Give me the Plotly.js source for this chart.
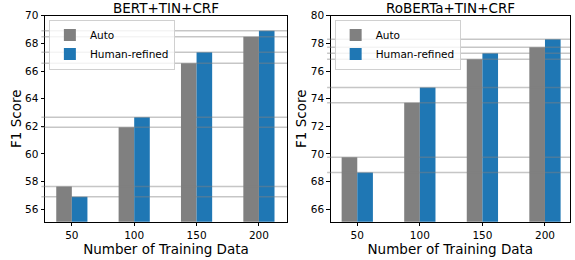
<!DOCTYPE html>
<html>
<head>
<meta charset="utf-8">
<script src="https://cdn.plot.ly/plotly-3.0.1.min.js"></script>
<style>html,body{margin:0;padding:0;background:#fff;}#chart{width:575px;height:260px;}</style>
</head>
<body>
<div id="chart"></div>
<script>
const categories = ["50", "100", "150", "200"];
const bertAuto = [57.64, 61.93, 66.56, 68.48];
const bertHuman = [56.91, 62.65, 67.35, 68.92];
const robertaAuto = [69.76, 73.71, 76.85, 77.72];
const robertaHuman = [68.65, 74.8, 77.28, 78.29];
const seriesNames = ["Auto", "Human-refined"];
const titles = ["BERT+TIN+CRF", "RoBERTa+TIN+CRF"];

const grayC = "#808080", blueC = "#1f77b4";
const FONT = "DejaVu Sans, sans-serif";

const traces = [
  {type: "bar", x: categories, y: bertAuto, name: seriesNames[0], marker: {color: grayC}, xaxis: "x", yaxis: "y", legend: "legend"},
  {type: "bar", x: categories, y: bertHuman, name: seriesNames[1], marker: {color: blueC}, xaxis: "x", yaxis: "y", legend: "legend"},
  {type: "bar", x: categories, y: robertaAuto, name: seriesNames[0], marker: {color: grayC}, xaxis: "x2", yaxis: "y2", legend: "legend2"},
  {type: "bar", x: categories, y: robertaHuman, name: seriesNames[1], marker: {color: blueC}, xaxis: "x2", yaxis: "y2", legend: "legend2"}
];

const shapes = [];
function addLines(vals, xr, yr) {
  vals.forEach(v => shapes.push({type: "line", xref: xr + " domain", yref: yr, x0: -0.015, x1: 1, y0: v, y1: v,
    line: {color: "rgba(128,128,128,0.45)", width: 1.5}, layer: "above"}));
}
addLines(bertAuto.concat(bertHuman), "x", "y");
addLines(robertaAuto.concat(robertaHuman), "x2", "y2");

const axX = (dom) => ({domain: dom, type: "category", range: [-0.43, 3.45], showline: true, mirror: true, linecolor: "#000", linewidth: 1,
  ticks: "outside", ticklen: 3.5, tickcolor: "#000", tickfont: {family: FONT, size: 10.5, color: "#000"},
  title: {text: "Number of Training Data", font: {family: FONT, size: 13.5, color: "#000"}, standoff: 1}, zeroline: false, showgrid: false});
const axY = (rng, tv) => ({domain: [0.1473, 0.9396], range: rng, tickvals: tv, showline: true, mirror: true, linecolor: "#000", linewidth: 1,
  ticks: "outside", ticklen: 3.5, tickcolor: "#000", tickfont: {family: FONT, size: 10.5, color: "#000"},
  title: {text: "F1 Score", font: {family: FONT, size: 13.5, color: "#000"}, standoff: 0}, zeroline: false, showgrid: false});

const xa2 = axX([0.5751, 0.9913]); xa2.range = [-0.425, 3.40];

const legendStyle = (x) => ({x: x, y: 0.925, xref: "paper", yref: "paper", xanchor: "left", yanchor: "top",
  bgcolor: "rgba(255,255,255,0.8)", bordercolor: "#d0d0d0", borderwidth: 1,
  font: {family: FONT, size: 10.5, color: "#000"}, tracegroupgap: 0, itemwidth: 30});

const layout = {
  width: 575, height: 260, margin: {l: 0, r: 0, t: 0, b: 0},
  paper_bgcolor: "#fff", plot_bgcolor: "#fff",
  barmode: "group", bargap: 0.5, bargroupgap: 0,
  xaxis: axX([0.0783, 0.4991]), yaxis: axY([55.1, 70], [56, 58, 60, 62, 64, 66, 68, 70]),
  xaxis2: xa2, yaxis2: Object.assign(axY([65.1, 80], [66, 68, 70, 72, 74, 76, 78, 80]), {anchor: "x2"}),
  legend: legendStyle(0.085), legend2: legendStyle(0.582),
  shapes: shapes,
  annotations: [
    {text: titles[0], xref: "paper", yref: "paper", x: 0.2887, y: 0.968, xanchor: "center", yanchor: "middle", showarrow: false, font: {family: FONT, size: 13.5, color: "#000"}},
    {text: titles[1], xref: "paper", yref: "paper", x: 0.7832, y: 0.968, xanchor: "center", yanchor: "middle", showarrow: false, font: {family: FONT, size: 13.5, color: "#000"}}
  ]
};
layout.xaxis.anchor = "y"; layout.yaxis.anchor = "x"; layout.xaxis2.anchor = "y2";

Plotly.newPlot("chart", traces, layout, {staticPlot: true, displayModeBar: false});
</script>
</body>
</html>
